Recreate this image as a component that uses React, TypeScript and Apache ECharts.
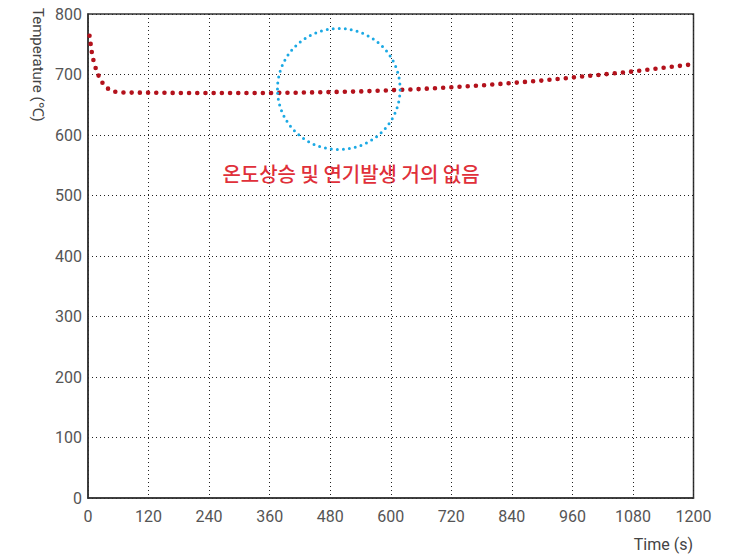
import React, { useEffect, useRef } from "react";
import * as echarts from "echarts";

const times = [3, 5, 8, 12, 17, 24, 33, 46, 61, 90, 120, 180, 240, 300, 360, 420, 480, 540, 600, 660, 720, 780, 840, 900, 960, 1020, 1080, 1140, 1200];
const temps = [764, 752, 734, 719, 706, 692, 681, 672.5, 670.5, 670, 670, 669.5, 669.5, 669.5, 669.5, 670, 671, 672, 674, 676, 679, 682, 686, 690, 695, 700, 705, 711, 717];
const xTicks = [0, 120, 240, 360, 480, 600, 720, 840, 960, 1080, 1200];
const yTicks = [0, 100, 200, 300, 400, 500, 600, 700, 800];
// highlight ellipse: center time, center temp, half-width (s), half-height (°C)
const highlight = [[497, 676, 121.5, 100]];
const noteText = "온도상승 및 연기발생 거의 없음";
const yName = "Temperature (℃)";
const xName = "Time (s)";

const FONT = "Roboto, 'Liberation Sans', sans-serif";

export default function App() {
  const ref = useRef<HTMLDivElement>(null);
  useEffect(() => {
    if (!ref.current) return;
    const chart = echarts.init(ref.current, null, { renderer: "svg" });
    const axisLabel = { color: "#555", fontSize: 16, fontFamily: FONT, formatter: (v: number) => String(v) };
    chart.setOption({
      animation: false,
      backgroundColor: "#fff",
      grid: {
        left: 88,
        right: 49.5,
        top: 14,
        bottom: 58,
        show: true,
        borderColor: "#333",
        borderWidth: 1.5,
        backgroundColor: "transparent",
      },
      xAxis: {
        type: "value",
        min: xTicks[0],
        max: xTicks[xTicks.length - 1],
        interval: 120,
        axisLine: { show: true, lineStyle: { color: "#333", width: 1.5 } },
        axisTick: { show: false },
        axisLabel: { ...axisLabel, margin: 10 },
        splitLine: { show: true, lineStyle: { color: "#222", type: [1, 3], width: 1 } },
      },
      yAxis: {
        type: "value",
        min: yTicks[0],
        max: yTicks[yTicks.length - 1],
        interval: 100,
        axisLine: { show: true, lineStyle: { color: "#333", width: 1.5 } },
        axisTick: { show: false },
        axisLabel: { ...axisLabel, margin: 6 },
        splitLine: { show: true, lineStyle: { color: "#222", type: [1, 3], width: 1 } },
      },
      graphic: [
        {
          type: "text",
          x: 38,
          y: 8,
          rotation: -Math.PI / 2,
          style: {
            text: yName,
            fill: "#444",
            fontSize: 15,
            fontFamily: FONT,
            align: "left",
            verticalAlign: "middle",
          },
        },
        {
          type: "text",
          x: 693,
          y: 544,
          style: {
            text: xName,
            fill: "#444",
            fontSize: 16,
            fontFamily: FONT,
            align: "right",
            verticalAlign: "middle",
          },
        },
        {
          type: "text",
          x: 351,
          y: 173,
          style: {
            text: noteText,
            fill: "#e0303a",
            fontSize: 20,
            fontWeight: 500,
            fontFamily: "'Noto Sans CJK KR', sans-serif",
            align: "center",
            verticalAlign: "middle",
          },
        },
      ],
      series: [
        {
          type: "line",
          data: times.map((t, i) => [t, temps[i]]),
          showSymbol: false,
          smooth: false,
          lineStyle: { color: "#b3121c", width: 4.6, type: [0, 8.2], cap: "round", join: "round" },
          z: 3,
        },
        {
          type: "custom",
          data: highlight,
          clip: false,
          renderItem: (params: any, api: any) => {
            const c = api.coord([api.value(0), api.value(1)]);
            const s = api.size([api.value(2), api.value(3)]);
            return {
              type: "ellipse",
              shape: { cx: c[0], cy: c[1], rx: s[0], ry: s[1] },
              style: {
                fill: "none",
                stroke: "#1ba9e4",
                lineWidth: 3,
                lineDash: [0, 6],
                lineCap: "round",
              },
            };
          },
          z: 4,
        },
      ],
    });
    return () => chart.dispose();
  }, []);
  return (
    <div
      ref={ref}
      style={{ position: "absolute", left: 0, top: 0, width: 743, height: 556 }}
    />
  );
}
